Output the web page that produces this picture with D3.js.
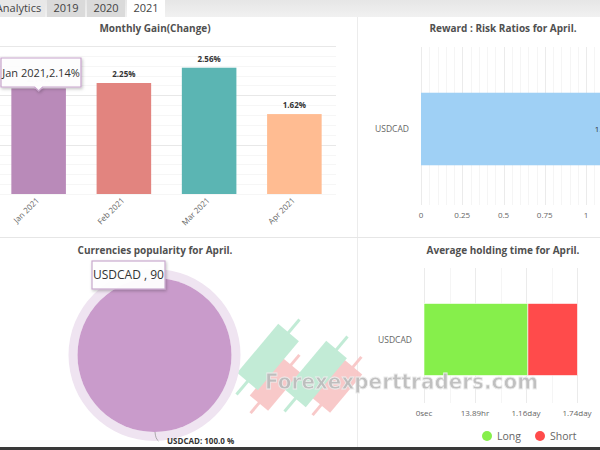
<!DOCTYPE html>
<html><head><meta charset="utf-8">
<script src="https://cdn.jsdelivr.net/npm/d3@7"></script>
<style>
html,body{margin:0;padding:0;background:#fff;}
svg{display:block;font-family:"Open Sans",Roboto,sans-serif;}
</style></head>
<body><svg id="c" width="600" height="450"></svg>
<script>
// ---- data ----
const tabs = ["Analytics","2019","2020","2021"];
const months = ["Jan 2021","Feb 2021","Mar 2021","Apr 2021"];
const gains = [2.14, 2.25, 2.56, 1.62];
const gainColors = ["#b98ab9","#e2847f","#5bb5b3","#ffbc92"];
const ratioPairs = ["USDCAD"];
const ratioValues = [1.18];
const ratioTicks = [0, 0.25, 0.5, 0.75, 1];
const popPairs = ["USDCAD"];
const popValues = [90];
const holdPairs = ["USDCAD"];
const holdLongHours = [28.3];
const holdShortHours = [13.5];
const holdTickHours = [0, 13.89, 27.78, 41.67];
const holdTickLabels = ["0sec","13.89hr","1.16day","1.74day"];
const legendNames = ["Long","Short"];
const legendColors = ["#86ef4b","#ff4b4b"];

const svg = d3.select("#c");
const defs = svg.append("defs");
const g0 = defs.append("linearGradient").attr("id","tabbg").attr("x1",0).attr("y1",0).attr("x2",0).attr("y2",1);
g0.append("stop").attr("offset","0%").attr("stop-color","#e6e6e6");
g0.append("stop").attr("offset","100%").attr("stop-color","#f1f1f1");
const sh = defs.append("filter").attr("id","shadow").attr("x","-20%").attr("y","-20%").attr("width","150%").attr("height","160%");
sh.append("feDropShadow").attr("dx",1).attr("dy",1.5).attr("stdDeviation",1.5).attr("flood-color","#000").attr("flood-opacity",0.25);

// ---- tab bar ----
svg.append("rect").attr("x",0).attr("y",0).attr("width",600).attr("height",17).attr("fill","url(#tabbg)");
const tabX = [-8, 47, 87, 127], tabW = [53, 38, 38, 38];
const tabFill = ["#e8e8e8","#dadada","#dadada","#ffffff"];
tabs.forEach((t,i)=>{
  svg.append("rect").attr("x",tabX[i]).attr("y",0).attr("width",tabW[i]).attr("height",17).attr("fill",tabFill[i]);
  svg.append("text").attr("x",tabX[i]+tabW[i]/2).attr("y",12).attr("text-anchor","middle")
    .attr("font-size",11).attr("fill","#444").text(t);
});

// panel dividers
svg.append("line").attr("x1",357.5).attr("x2",357.5).attr("y1",17).attr("y2",447).attr("stroke","#ececec");
svg.append("line").attr("x1",0).attr("x2",600).attr("y1",237.5).attr("y2",237.5).attr("stroke","#e6e6e6");

function title(x,y,t){
  svg.append("text").attr("x",x).attr("y",y).attr("text-anchor","middle")
    .attr("font-size",10).attr("font-weight","bold").attr("fill","#505050").text(t);
}

// ---- Monthly gain ----
title(155,32,"Monthly Gain(Change)");
const xM = d3.scaleBand().domain(months).range([-4,337]).paddingInner(0.36).paddingOuter(0.18);
const yM = d3.scaleLinear().domain([0,3]).range([194,46]);
const gM = svg.append("g");
gM.selectAll("line.minor").data(d3.range(0,3.01,0.2)).join("line")
  .attr("x1",0).attr("x2",336).attr("y1",d=>Math.round(yM(d))+0.5).attr("y2",d=>Math.round(yM(d))+0.5)
  .attr("stroke","#f6f6f6");
gM.selectAll("line.major").data([1,2,3]).join("line")
  .attr("x1",0).attr("x2",336).attr("y1",d=>Math.round(yM(d))+0.5).attr("y2",d=>Math.round(yM(d))+0.5)
  .attr("stroke","#e8e8e8");
gM.selectAll("rect.bar").data(gains).join("rect")
  .attr("x",(d,i)=>xM(months[i])).attr("width",xM.bandwidth())
  .attr("y",d=>yM(d)).attr("height",d=>yM(0)-yM(d))
  .attr("fill",(d,i)=>gainColors[i]);
gM.selectAll("text.val").data(gains).join("text")
  .attr("x",(d,i)=>xM(months[i])+xM.bandwidth()/2).attr("y",d=>yM(d)-6)
  .attr("text-anchor","middle").attr("font-size",8).attr("font-weight","bold")
  .attr("fill",(d,i)=>i===0?"#ddd":"#333").text(d=>d.toFixed(2)+"%");
gM.selectAll("text.xl").data(months).join("text")
  .attr("transform",d=>`translate(${xM(d)+xM.bandwidth()/2+1},${201}) rotate(-45)`)
  .attr("text-anchor","end").attr("font-size",8).attr("fill","#666").text(d=>d);
// tooltip Jan
const tipX = xM(months[0])+xM.bandwidth()/2;
const tip1 = svg.append("g").attr("filter","url(#shadow)");
tip1.append("path")
  .attr("d",`M1,58 H81 V87 H${tipX+4} L${tipX},91 L${tipX-4},87 H1 Z`)
  .attr("fill","#fff").attr("fill-opacity",0.92).attr("stroke","#c7a3cc").attr("stroke-width",1.2);
svg.append("text").attr("x",41).attr("y",77).attr("text-anchor","middle").attr("font-size",11)
  .attr("fill","#333").text(months[0]+","+gains[0].toFixed(2)+"%");

// ---- Reward : Risk ----
title(503,32,"Reward : Risk Ratios for April.");
const xR = d3.scaleLinear().domain([0,1]).range([421,586]);
const yR = d3.scaleBand().domain(ratioPairs).range([57,201]).padding(0.33);
const gR = svg.append("g");
gR.selectAll("line.minor").data(d3.range(0,1.11,0.05)).join("line")
  .attr("x1",d=>Math.round(xR(d))+0.5).attr("x2",d=>Math.round(xR(d))+0.5).attr("y1",47).attr("y2",205)
  .attr("stroke","#f5f5f5");
gR.selectAll("line.major").data(ratioTicks).join("line")
  .attr("x1",d=>Math.round(xR(d))+0.5).attr("x2",d=>Math.round(xR(d))+0.5).attr("y1",47).attr("y2",205)
  .attr("stroke","#ebebeb");
gR.selectAll("rect").data(ratioValues).join("rect")
  .attr("x",xR(0)).attr("width",d=>xR(d)-xR(0))
  .attr("y",(d,i)=>yR(ratioPairs[i])).attr("height",yR.bandwidth()).attr("fill","#9fd0f5");
gR.selectAll("text.v").data(ratioValues).join("text")
  .attr("x",d=>xR(d)-5).attr("y",(d,i)=>yR(ratioPairs[i])+yR.bandwidth()/2+3)
  .attr("text-anchor","end").attr("font-size",8).attr("fill","#333").text(d=>d.toFixed(2));
gR.selectAll("text.c").data(ratioPairs).join("text")
  .attr("x",409).attr("y",d=>yR(d)+yR.bandwidth()/2+3).attr("text-anchor","end")
  .attr("font-size",8.5).attr("fill","#666").text(d=>d);
gR.selectAll("text.t").data(ratioTicks).join("text")
  .attr("x",d=>xR(d)).attr("y",218).attr("text-anchor","middle")
  .attr("font-size",8).attr("fill","#666").text(d=>d);

// ---- watermark candles (decorative) ----
const candles = [
  {cx:275,cy:384,len:50,w:24,wick:76,col:"#f8c4c4"},
  {cx:337,cy:386,len:50,w:24,wick:76,col:"#f8c4c4"},
  {cx:268,cy:357,len:64,w:27,wick:98,col:"#bce9d2"},
  {cx:316,cy:374,len:64,w:27,wick:98,col:"#bce9d2"}
];
const gW = svg.append("g").attr("opacity",0.9);
candles.forEach(c=>{
  const g = gW.append("g").attr("transform",`translate(${c.cx},${c.cy}) rotate(-50)`);
  g.append("line").attr("x1",-c.wick/2).attr("x2",c.wick/2).attr("y1",0).attr("y2",0).attr("stroke",c.col).attr("stroke-width",3);
  g.append("rect").attr("x",-c.len/2).attr("y",-c.w/2).attr("width",c.len).attr("height",c.w).attr("fill",c.col);
});

// ---- Currencies popularity ----
title(155,254,"Currencies popularity for April.");
const pie = d3.pie().sort(null)(popValues);
const arc = d3.arc().innerRadius(0).outerRadius(77);
const arcRing = d3.arc().innerRadius(77).outerRadius(86);
const gP = svg.append("g").attr("transform","translate(154.5,355)");
gP.selectAll("path.ring").data(pie).join("path").attr("d",arcRing).attr("fill","#efe4f1");
gP.selectAll("path.s").data(pie).join("path").attr("d",arc).attr("fill","#c99bcb");
gP.append("path").attr("d","M0.5,77 Q1,84 4,86").attr("fill","none").attr("stroke","#999").attr("stroke-width",0.8);
const total = d3.sum(popValues);
svg.append("text").attr("x",167).attr("y",444).attr("font-size",8).attr("font-weight","bold").attr("fill","#333")
  .text(popPairs[0]+": "+(popValues[0]/total*100).toFixed(1)+" %");
const tip2 = svg.append("g").attr("filter","url(#shadow)");
tip2.append("rect").attr("x",92).attr("y",261).attr("width",73).attr("height",28)
  .attr("fill","#fff").attr("fill-opacity",0.95).attr("stroke","#c9a9cd").attr("stroke-width",1.2);
svg.append("text").attr("x",128.5).attr("y",279).attr("text-anchor","middle").attr("font-size",12)
  .attr("fill","#333").text(popPairs[0]+" , "+popValues[0]);

// ---- Average holding time ----
title(503,254,"Average holding time for April.");
const xH = d3.scaleLinear().domain([0,41.67]).range([424,577]);
const yH = d3.scaleBand().domain(holdPairs).range([268,411]).padding(0.33);
const gH = svg.append("g");
gH.selectAll("line.minor").data(d3.range(0,50,13.89/2)).join("line")
  .attr("x1",d=>Math.round(xH(d))+0.5).attr("x2",d=>Math.round(xH(d))+0.5).attr("y1",268).attr("y2",403)
  .attr("stroke","#f5f5f5");
gH.selectAll("line.major").data(holdTickHours).join("line")
  .attr("x1",d=>Math.round(xH(d))+0.5).attr("x2",d=>Math.round(xH(d))+0.5).attr("y1",268).attr("y2",403)
  .attr("stroke","#ebebeb");
const stack = d3.stack().keys(["long","short"])(holdPairs.map((p,i)=>({pair:p,long:holdLongHours[i],short:holdShortHours[i]})));
stack.forEach((s,k)=>{
  gH.selectAll("rect.s"+k).data(s).join("rect")
    .attr("x",d=>xH(d[0])).attr("width",d=>xH(d[1])-xH(d[0]))
    .attr("y",d=>yH(d.data.pair)).attr("height",yH.bandwidth()).attr("fill",legendColors[k])
    .attr("stroke","#fff").attr("stroke-width",0.6);
});
gH.selectAll("text.c").data(holdPairs).join("text")
  .attr("x",412).attr("y",d=>yH(d)+yH.bandwidth()/2+3).attr("text-anchor","end")
  .attr("font-size",8.5).attr("fill","#666").text(d=>d);
gH.selectAll("text.t").data(holdTickHours).join("text")
  .attr("x",d=>xH(d)).attr("y",416).attr("text-anchor","middle")
  .attr("font-size",8).attr("fill","#666").text((d,i)=>holdTickLabels[i]);
const lgX = [487, 540];
legendNames.forEach((n,i)=>{
  svg.append("circle").attr("cx",lgX[i]).attr("cy",436).attr("r",5).attr("fill",legendColors[i]);
  svg.append("text").attr("x",lgX[i]+10).attr("y",440).attr("font-size",10.5).attr("fill","#666").text(n);
});

// watermark text
svg.append("text").attr("x",265).attr("y",389).attr("textLength",273).attr("lengthAdjust","spacingAndGlyphs")
  .attr("font-family","'DejaVu Sans',sans-serif").attr("font-weight","bold").attr("font-size",21)
  .attr("fill","#bdbdbd").attr("stroke","#ededed").attr("stroke-width",0.8).attr("opacity",0.95)
  .text("Forexexperttraders.com");

// bottom bar
svg.append("rect").attr("x",0).attr("y",447).attr("width",600).attr("height",3).attr("fill","#3a3a3a");
</script></body></html>
